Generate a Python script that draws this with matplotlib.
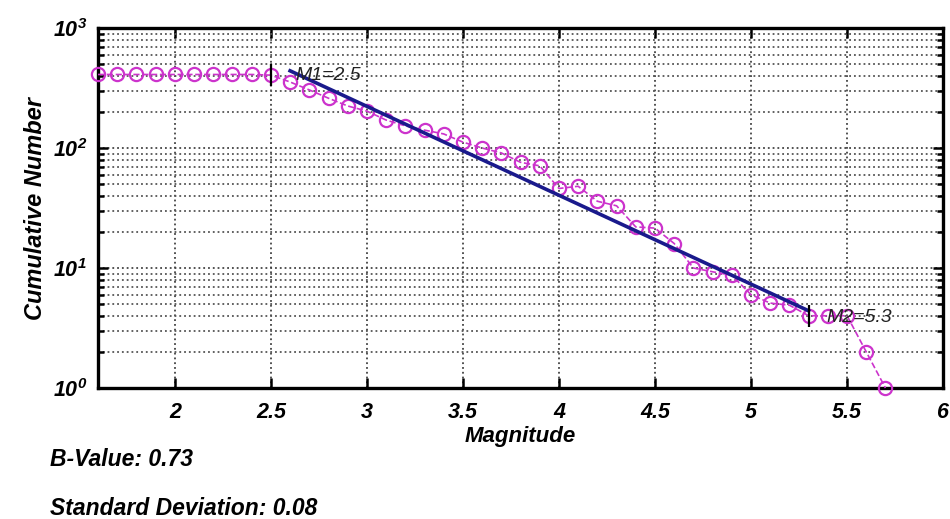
import numpy as np
import matplotlib
matplotlib.use('Agg')
from matplotlib import pyplot as plt
from matplotlib.ticker import LogLocator, FixedLocator, NullFormatter

# cumulative frequency-magnitude distribution
magnitude = [1.6, 1.7, 1.8, 1.9, 2.0, 2.1, 2.2, 2.3, 2.4, 2.5,
             2.6, 2.7, 2.8, 2.9, 3.0, 3.1, 3.2, 3.3, 3.4, 3.5,
             3.6, 3.7, 3.8, 3.9, 4.0, 4.1, 4.2, 4.3, 4.4, 4.5,
             4.6, 4.7, 4.8, 4.9, 5.0, 5.1, 5.2, 5.3, 5.4, 5.5,
             5.6, 5.7]
cum_number = [410, 410, 410, 410, 410, 410, 410, 410, 410, 405,
              355, 305, 260, 224, 203, 171, 153, 141, 131, 112,
              100, 91, 76, 71, 46, 48, 36, 33, 22, 21.5,
              16, 10, 9.3, 8.7, 6, 5.1, 4.9, 4, 4, 4,
              2, 1]

# fitted line end points (M1 .. M2)
fit_mag = [2.6, 5.3]
fit_num = [440, 4.4]

mc_mag = [2.5, 5.3]
mc_num = [405, 4]
mc_text = ['M1=2.5', 'M2=5.3']

x_ticks = [2, 2.5, 3, 3.5, 4, 4.5, 5, 5.5, 6]
x_labels = ['2', '2.5', '3', '3.5', '4', '4.5', '5', '5.5', '6']
y_ticks = [1, 10, 100, 1000]
y_labels = [r'$\mathregular{10^{0}}$', r'$\mathregular{10^{1}}$',
            r'$\mathregular{10^{2}}$', r'$\mathregular{10^{3}}$']

b_text = 'B-Value: 0.73'
sd_text = 'Standard Deviation: 0.08'

plt.rcParams['font.family'] = ['Liberation Sans', 'DejaVu Sans']

fig = plt.figure(figsize=(9.5, 5.19), dpi=100)
ax = fig.add_axes([0.1032, 0.2524, 0.8895, 0.6936])

ax.plot(magnitude, cum_number, linestyle='--', color='#cc33cc', lw=1.2,
        marker='o', markersize=9.5, markerfacecolor='none',
        markeredgecolor='#cc33cc', markeredgewidth=1.6, clip_on=False, zorder=3)
ax.plot(fit_mag, fit_num, color='#1a1a8c', lw=2.6, zorder=4)
ax.plot(mc_mag, mc_num, linestyle='none', marker='|', markersize=16,
        markeredgewidth=1.6, color='black', zorder=5)

ax.text(2.63, 405, mc_text[0], fontsize=14, style='italic', color='#222222',
        va='center', ha='left', zorder=6)
ax.text(5.39, 3.9, mc_text[1], fontsize=14, style='italic', color='#222222',
        va='center', ha='left', zorder=6)

ax.set_yscale('log')
ax.set_xlim(1.6, 6)
ax.set_ylim(1, 1000)

ax.xaxis.set_major_locator(FixedLocator(x_ticks))
ax.set_xticklabels(x_labels)
ax.set_yticks(y_ticks)
ax.set_yticklabels(y_labels)
ax.yaxis.set_minor_locator(LogLocator(base=10, subs=np.arange(2, 10)))
ax.yaxis.set_minor_formatter(NullFormatter())

for lab in ax.get_xticklabels() + ax.get_yticklabels():
    lab.set_fontweight('bold')
    lab.set_fontstyle('italic')
    lab.set_fontsize(15.5)

ax.tick_params(which='both', direction='in', top=True, right=True, width=1.8)
ax.tick_params(which='major', length=7, pad=10)
ax.tick_params(which='minor', length=4)
ax.tick_params(axis='y', which='major', pad=8)

ax.grid(True, which='major', axis='both', linestyle=':', color='#444444', lw=1.3)
ax.grid(True, which='minor', axis='y', linestyle=':', color='#555555', lw=1.3)
for s in ax.spines.values():
    s.set_linewidth(2.4)

ax.set_xlabel('Magnitude', fontsize=16, fontweight='bold', style='italic', labelpad=2)
ax.set_ylabel('Cumulative Number', fontsize=17, fontweight='bold', style='italic', labelpad=4)

fig.text(0.053, 0.114, b_text, fontsize=16.5, fontweight='bold', style='italic', va='center')
fig.text(0.053, 0.021, sd_text, fontsize=16.5, fontweight='bold', style='italic', va='center')

fig.savefig('out.png', dpi=100)
